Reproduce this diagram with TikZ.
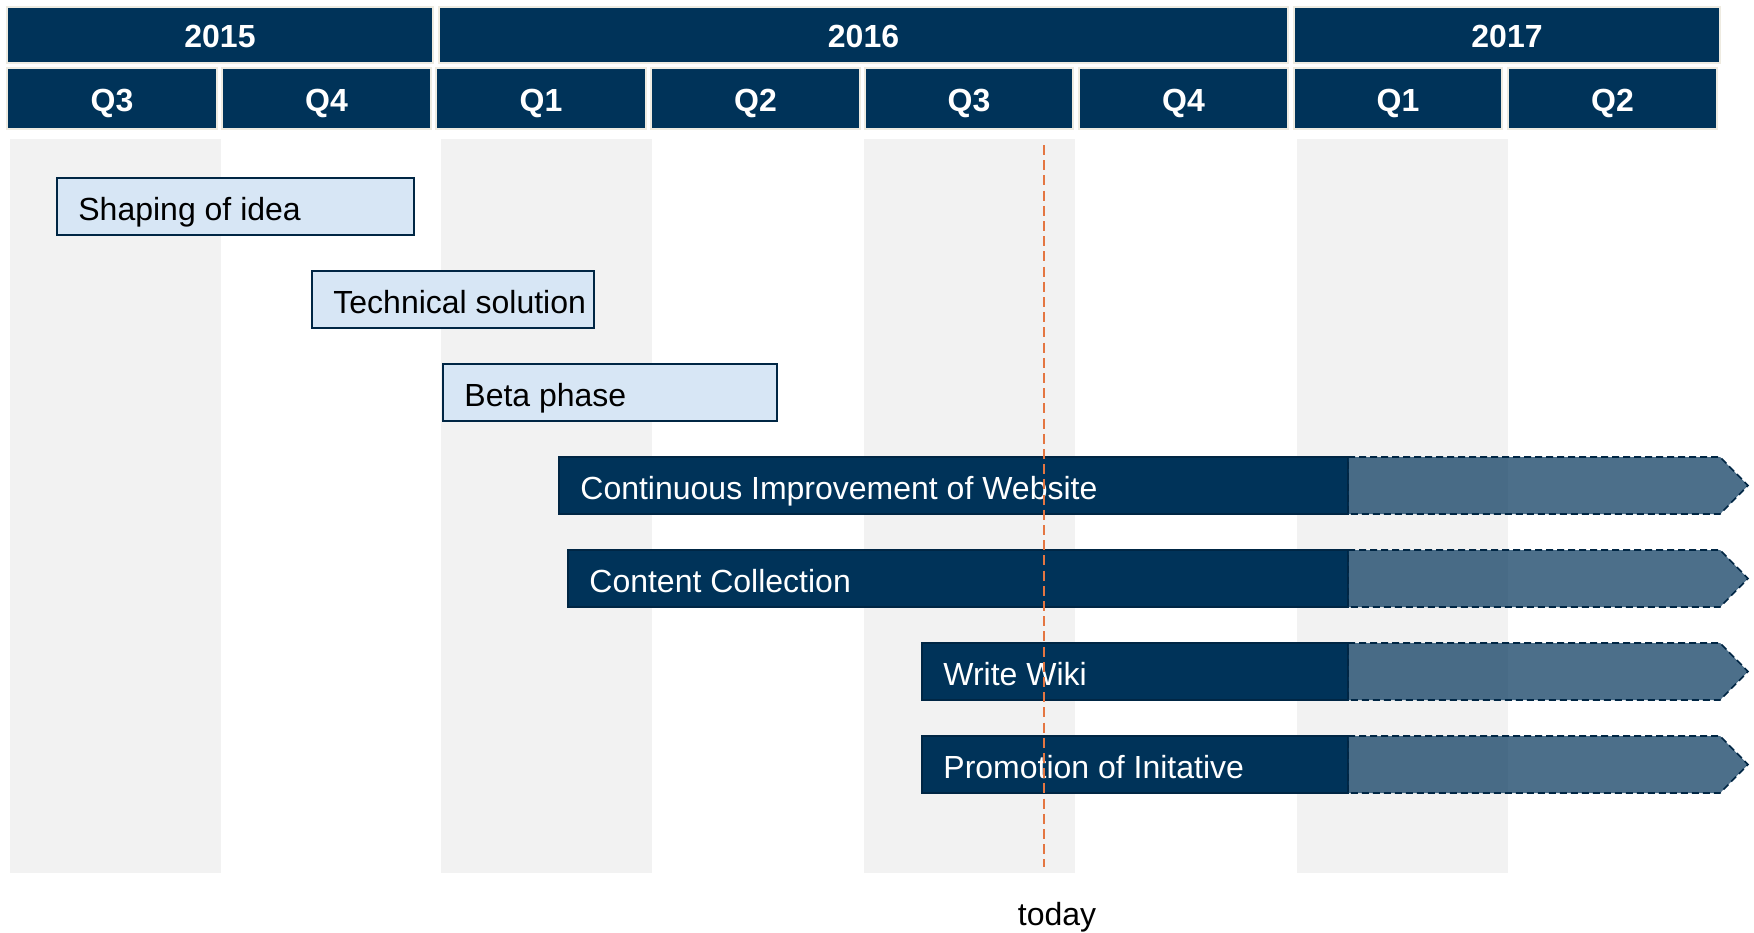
\documentclass[tikz,border=0pt]{standalone}
\usepackage{fontspec}
\setmainfont{Liberation Sans}
\definecolor{navy}{RGB}{0,51,89}
\definecolor{navyline}{RGB}{0,38,68}
\definecolor{beige}{RGB}{238,235,225}
\definecolor{bandgray}{RGB}{242,242,242}
\definecolor{lightfill}{RGB}{215,230,245}
\definecolor{todayc}{RGB}{228,118,66}
\tikzset{
  cell/.style={fill=navy, draw=beige, line width=1pt},
  hdr/.style={text=white, font=\bfseries\fontsize{16}{19}\selectfont, inner sep=0pt, anchor=base},
  bandfill/.style={fill=bandgray},
  lightbar/.style={fill=lightfill, draw=navyline, line width=0.9pt},
  darkbar/.style={fill=navy, draw=navyline, line width=0.9pt},
  futurebar/.style={fill=navy, fill opacity=0.7, draw=navyline, draw opacity=1, line width=0.8pt, dash pattern=on 3.5pt off 2pt},
  lighttext/.style={text=black, font=\fontsize{16}{19}\selectfont, anchor=base west, inner sep=0pt},
  darktext/.style={text=white, font=\fontsize{16}{19}\selectfont, anchor=base west, inner sep=0pt},
  todayline/.style={draw=todayc, line width=1.4pt, dash pattern=on 5pt off 2.6pt},
  todaytext/.style={text=black, font=\fontsize{16}{19}\selectfont, anchor=base, inner sep=0pt},
}
\begin{document}
\begin{tikzpicture}[x=0.5pt,y=-0.5pt]
\useasboundingbox (0,0) rectangle (1754,932);
\fill[white] (0,0) rectangle (1754,932);
% background bands
\foreach \a/\b in {10/221, 441/652, 864/1075, 1297/1508}{
  \fill[bandfill] (\a,139) rectangle (\b,873);
}
% year row
\foreach \a/\b/\t/\n in {7/433/2015/y15, 439/1288/2016/y16, 1294/1720/2017/y17}{
  \draw[cell] (\a,7) rectangle (\b,63);
  \node[hdr] (\n) at ({(\a+\b)/2},47.5) {\t};
}
% quarter row
\foreach \a/\b/\t/\n in {7/217/Q3/qa, 222/431/Q4/qb, 436/646/Q1/qc, 651/860/Q2/qd, 865/1073/Q3/qe, 1079/1288/Q4/qf, 1294/1502/Q1/qg, 1508/1717/Q2/qh}{
  \draw[cell] (\a,68) rectangle (\b,129);
  \node[hdr] (\n) at ({(\a+\b)/2},111) {\t};
}
% light bars
\foreach \a/\b/\y/\t/\n in {57/414/178/Shaping of idea/ta, 312/594/271/Technical solution/tb, 443/777/364/Beta phase/tc}{
  \draw[lightbar] (\a,\y) rectangle (\b,\y+57);
  \node[lighttext] (\n) at (\a+21,\y+42) {\t};
}
% dark bars with future arrows
\foreach \a/\y/\t/\n in {559/457/Continuous Improvement of Website/td, 568/550/Content Collection/te, 922/643/Write Wiki/tf, 922/736/Promotion of Initative/tg}{
  \draw[darkbar] (\a,\y) rectangle (1348,\y+57);
  \draw[futurebar] (1348,\y) -- (1720,\y) -- (1748,\y+28.5) -- (1720,\y+57) -- (1348,\y+57) -- cycle;
  \node[darktext] (\n) at (\a+21,\y+42) {\t};
}
% today marker
\node[todaytext] (today) at (1057,925) {today};
\coordinate (todaytop) at (1044,145);
\coordinate (todaybot) at (1044,867);
\draw[todayline] (todaytop) -- (todaybot);
\end{tikzpicture}
\end{document}
